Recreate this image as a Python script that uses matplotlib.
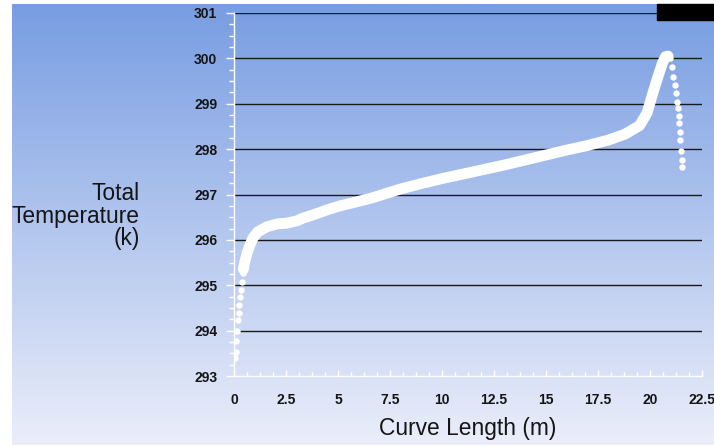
import numpy as np
import matplotlib
matplotlib.use("Agg")
import matplotlib.pyplot as plt
from matplotlib.ticker import MultipleLocator
from matplotlib.patches import Rectangle

# data: curve length (m) vs total temperature (K)
# sparse dots at the very start
start_len = [0.05, 0.10, 0.10, 0.14, 0.19, 0.24, 0.24, 0.29, 0.34, 0.38, 0.43, 0.48, 0.63]
start_temp = [293.40, 293.53, 293.78, 294.00, 294.24, 294.39, 294.57, 294.74, 294.90,
              295.07, 295.27, 295.49, 295.71]
# dense part, drawn as a solid band
body_len = [0.45, 0.52, 0.63, 0.77, 0.91, 1.15, 1.59, 2.07, 2.55, 3.03, 3.32, 3.80, 4.47,
            5.10, 5.91, 6.68, 7.36, 8.00, 9.00, 10.0, 11.0, 12.0, 13.0, 14.0, 15.0, 16.0,
            17.0, 18.0, 18.8, 19.5, 19.86, 20.14, 20.35, 20.60, 20.75, 20.87]
body_temp = [295.35, 295.52, 295.71, 295.89, 296.04, 296.18, 296.29, 296.35, 296.37, 296.42,
             296.48, 296.55, 296.66, 296.75, 296.84, 296.93, 297.03, 297.12, 297.24, 297.35,
             297.45, 297.55, 297.65, 297.76, 297.87, 297.98, 298.08, 298.20, 298.33, 298.52,
             298.80, 299.24, 299.55, 299.90, 300.04, 300.05]
# dots after the peak
drop_len = [20.95, 21.06, 21.10, 21.20, 21.25, 21.30, 21.35, 21.40, 21.40, 21.44, 21.44,
            21.49, 21.54, 21.54]
drop_temp = [300.00, 299.81, 299.59, 299.41, 299.24, 299.04, 298.91, 298.73, 298.58, 298.38,
             298.20, 297.96, 297.76, 297.60]

x_ticks = [0, 2.5, 5, 7.5, 10, 12.5, 15, 17.5, 20, 22.5]
x_labels = ["0", "2.5", "5", "7.5", "10", "12.5", "15", "17.5", "20", "22.5"]
y_ticks = [293, 294, 295, 296, 297, 298, 299, 300, 301]

plt.rcParams['font.family'] = ['Liberation Sans', 'DejaVu Sans']

W, H = 714, 446
fig = plt.figure(figsize=(W / 100, H / 100), dpi=100)
fig.patch.set_facecolor('white')

# gradient background
bg = fig.add_axes([12 / W, 1 / H, (W - 12) / W, (H - 5) / H], zorder=0)
top = np.array([120, 157, 226]) / 255
bot = np.array([235, 238, 250]) / 255
t = np.linspace(0, 1, 256)[:, None]
grad = (top[None, :] * (1 - t) + bot[None, :] * t)[:, None, :]
bg.imshow(grad, aspect='auto', extent=[0, 1, 0, 1])
bg.set_axis_off()

ax = fig.add_axes([234 / W, 1 - 376 / H, (702 - 234) / W, (376 - 13) / H], zorder=1)
ax.set_facecolor('none')

for yv in y_ticks[1:]:
    ax.axhline(yv, color='#1a1a1a', lw=1.0, zorder=1)

ax.plot(body_len, body_temp, '-', color='white', lw=7.8, solid_capstyle='round',
        solid_joinstyle='round', zorder=3)
ax.plot(start_len, start_temp, 'o', color='white', ms=4.6, mec='none', zorder=3)
ax.plot(drop_len, drop_temp, 'o', color='white', ms=4.6, mec='none', zorder=3)

ax.set_xlim(0, 22.5)
ax.set_ylim(293, 301)
ax.set_xticks(x_ticks)
ax.set_xticklabels(x_labels)
ax.set_yticks(y_ticks)
ax.xaxis.set_minor_locator(MultipleLocator(0.625))
ax.yaxis.set_minor_locator(MultipleLocator(0.25))

for s in ['top', 'right']:
    ax.spines[s].set_visible(False)
for s in ['left', 'bottom']:
    ax.spines[s].set_color('white')
    ax.spines[s].set_linewidth(1.0)

ax.tick_params(axis='y', which='major', direction='out', length=6, width=1,
               color='white', pad=6, labelsize=10, labelcolor='#151515')
ax.tick_params(axis='y', which='minor', direction='out', length=3.5, width=1, color='white')
ax.tick_params(axis='x', which='major', direction='in', length=4, width=1,
               color='white', pad=12, labelsize=10, labelcolor='#151515')
ax.tick_params(axis='x', which='minor', direction='in', length=3, width=1, color='white')
for lbl in ax.get_xticklabels() + ax.get_yticklabels():
    lbl.set_fontweight('bold')

fig.text(468 / W, 1 - 429 / H, "Curve Length (m)", ha='center', va='center',
         fontsize=16.4, color='#151515')
fig.text(140 / W, 1 - 216 / H, "Total\nTemperature\n(k)", ha='right', va='center',
         multialignment='right', fontsize=16.4, color='#151515', linespacing=0.95)

# black box in the top-right corner
fig.patches.append(Rectangle((657 / W, 1 - 20 / H), (W - 657) / W, 16 / H,
                             transform=fig.transFigure, color='black', zorder=5))

fig.savefig('out.png', dpi=100)
